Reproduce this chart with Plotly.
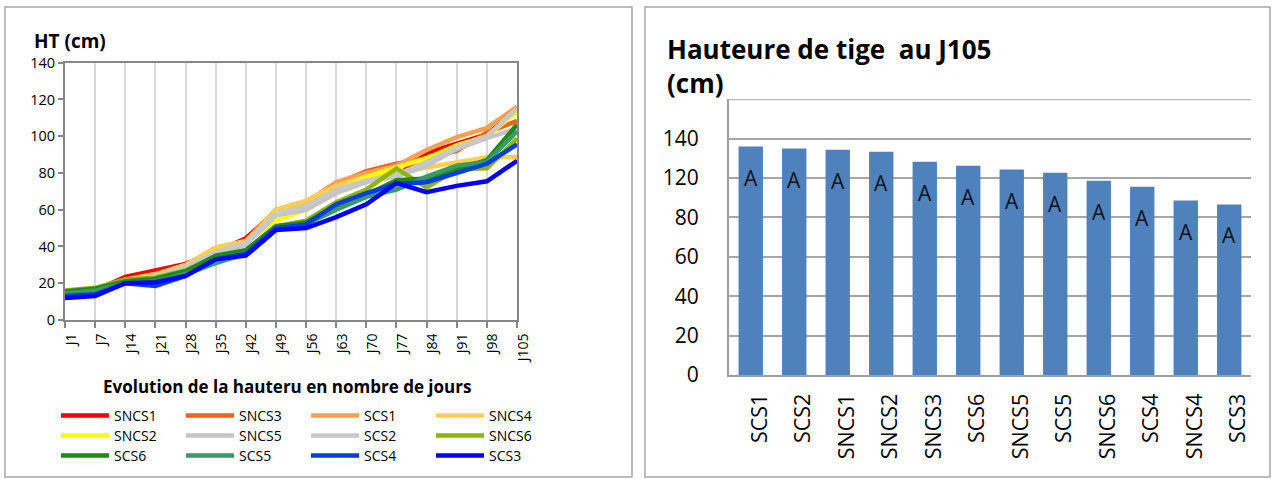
import plotly.graph_objects as go

# ---------------- data ----------------
days = ["J1", "J7", "J14", "J21", "J28", "J35", "J42", "J49", "J56", "J63",
        "J70", "J77", "J84", "J91", "J98", "J105"]

SNCS1 = [14, 16, 23.5, 27, 30.5, 37, 44.5, 59, 62, 72, 79, 78, 91, 96, 101, 114.4]
SNCS3 = [14, 16, 22, 24, 30, 37, 43, 60, 64, 74, 81, 85, 88, 92, 102, 108.3]
SCS1 = [14, 16, 21, 24, 29, 38, 42, 59, 64, 75, 80, 84, 92.5, 99.5, 104.5, 116]
SNCS4 = [15, 17, 22, 25, 30, 39.5, 43, 60, 65, 73, 78, 80, 83, 86, 88.5, 88.6]
SNCS2 = [14, 16, 21, 24, 29, 36, 42, 54, 60, 70, 78, 83, 88, 95, 100, 113.4]
SNCS5 = [13, 15, 21, 23, 28, 36, 41, 57, 60, 69, 75, 78, 84, 93, 99, 104.3]
SCS2 = [13, 15, 21, 24, 29, 37, 42, 58, 62, 71, 76, 79, 86, 94, 100, 115]
SNCS6 = [16, 17.5, 22, 23, 27, 34, 38, 51, 54, 64, 71, 82.5, 72, 82, 82.5, 98.7]
SCS6 = [15.5, 17, 21, 22.5, 26.5, 35, 38, 51, 53, 62, 68, 76, 77, 82, 87, 106.3]
SCS5 = [14.5, 16, 20, 21, 25, 31, 36, 50, 52, 60, 67, 71, 78, 84, 86, 102.7]
SCS4 = [13, 14, 20, 18.5, 24, 33, 36, 50, 52, 63, 69, 74, 75, 80, 85, 95.6]
SCS3 = [12, 13, 20, 20.5, 24, 33, 35, 49, 50, 56, 63, 74.5, 69.5, 73, 75.5, 86.6]

series_names = ["SNCS1", "SNCS3", "SCS1", "SNCS4",
                "SNCS2", "SNCS5", "SCS2", "SNCS6",
                "SCS6", "SCS5", "SCS4", "SCS3"]
series_values = [SNCS1, SNCS3, SCS1, SNCS4, SNCS2, SNCS5, SCS2, SNCS6,
                 SCS6, SCS5, SCS4, SCS3]
series_colors = ["#FF0000", "#FF6010", "#FFA050", "#FFD050",
                 "#FFFF00", "#C4C4C4", "#C8C8C8", "#8DB600",
                 "#1E8A12", "#379A68", "#0A3CE6", "#0000FF"]

bar_categories = ["SCS1", "SCS2", "SNCS1", "SNCS2", "SNCS3", "SCS6",
                  "SNCS5", "SCS5", "SNCS6", "SCS4", "SNCS4", "SCS3"]
bar_values = [116, 115, 114.4, 113.4, 108.3, 106.3, 104.3, 102.7, 98.7, 95.6, 88.6, 86.6]
bar_letters = ["A"] * 12

left_yticks = [0, 20, 40, 60, 80, 100, 120, 140]
right_tickvals = [0, 20, 40, 60, 80, 100, 120]
right_ticktext = ["0", "20", "40", "60", "80", "120", "140"]

# ---------------- figure ----------------
W, H = 1276, 479
FONT = "Open Sans"
fig = go.Figure()

legends = ["legend", "legend2", "legend3"]
for i, (name, vals, col) in enumerate(zip(series_names, series_values, series_colors)):
    fig.add_trace(go.Scatter(
        x=days, y=vals, name=name, mode="lines",
        line=dict(color=col, width=4.5),
        xaxis="x", yaxis="y", legend=legends[i // 4],
    ))

fig.add_trace(go.Bar(
    x=bar_categories, y=bar_values, marker=dict(color="#4F81BD", line=dict(width=0)),
    xaxis="x2", yaxis="y2", showlegend=False,
))

def px_x(p):
    return p / W

def px_y(p):
    return (H - p) / H

annotations = []
for c, v, t in zip(bar_categories, bar_values, bar_letters):
    annotations.append(dict(x=c, y=v, xref="x2", yref="y2", text=t, showarrow=False,
                            yanchor="middle", yshift=-31,
                            font=dict(family=FONT, size=21, color="#111111")))

annotations += [
    dict(x=px_x(32), y=px_y(41), xref="paper", yref="paper", text="<b>HT (cm)</b>",
         showarrow=False, xanchor="left", yanchor="middle",
         font=dict(family=FONT, size=19, color="#000")),
    dict(x=px_x(287), y=px_y(386), xref="paper", yref="paper",
         text="<b>Evolution de la hauteru en nombre de jours</b>",
         showarrow=False, xanchor="center", yanchor="middle",
         font=dict(family=FONT, size=17, color="#000")),
    dict(x=px_x(665), y=px_y(66), xref="paper", yref="paper",
         text="<b>Hauteure de tige  au J105<br>(cm)</b>", align="left",
         showarrow=False, xanchor="left", yanchor="middle",
         font=dict(family=FONT, size=26, color="#000")),
]

shapes = [
    dict(type="rect", xref="paper", yref="paper", x0=px_x(5), x1=px_x(632),
         y0=px_y(477), y1=px_y(7), line=dict(color="#A6A6A6", width=1.5)),
    dict(type="rect", xref="paper", yref="paper", x0=px_x(645), x1=px_x(1270),
         y0=px_y(477), y1=px_y(7), line=dict(color="#A6A6A6", width=1.5)),
]

leg_common = dict(orientation="h", xanchor="left", yanchor="middle",
                  entrywidth=62, entrywidthmode="pixels", itemwidth=48,
                  font=dict(family=FONT, size=14, color="#000"),
                  bgcolor="rgba(0,0,0,0)", tracegroupgap=0, itemclick=False)

fig.update_layout(
    width=W, height=H,
    margin=dict(l=0, r=0, t=0, b=0, autoexpand=False),
    paper_bgcolor="white", plot_bgcolor="white",
    font=dict(family=FONT, color="#000"),
    showlegend=True,
    legend=dict(x=px_x(56), y=px_y(416), **leg_common),
    legend2=dict(x=px_x(56), y=px_y(436), **leg_common),
    legend3=dict(x=px_x(56), y=px_y(456), **leg_common),
    xaxis=dict(domain=[px_x(65), px_x(517)], range=[0, 15], type="category",
               showgrid=True, gridcolor="#D9D9D9", gridwidth=1.5,
               showline=True, linecolor="#868686", linewidth=2, mirror=True,
               ticks="outside", ticklen=6, tickcolor="#868686", tickwidth=1.5,
               tickangle=-90, ticklabelshift=6,
               tickfont=dict(family=FONT, size=14, color="#000"),
               anchor="y", zeroline=False, automargin=False),
    yaxis=dict(domain=[px_y(320), px_y(62.7)], range=[0, 140], tickvals=left_yticks,
               showgrid=False, showline=True, linecolor="#868686", linewidth=2,
               mirror=True, ticks="outside", ticklen=5, tickcolor="#868686",
               tickwidth=1.5, tickfont=dict(family=FONT, size=14.5, color="#000"),
               anchor="x", zeroline=False, automargin=False),
    xaxis2=dict(domain=[px_x(729), px_x(1251)], type="category",
                showgrid=False, showline=True, linecolor="#A0A0A0", linewidth=2,
                ticks="", tickangle=-90, ticklabelstandoff=8, ticklabelshift=9,
                tickfont=dict(family=FONT, size=21.5, color="#000"),
                anchor="y2", zeroline=False, automargin=False),
    yaxis2=dict(domain=[px_y(375), px_y(99.3)], range=[0, 140],
                tickvals=right_tickvals, ticktext=right_ticktext,
                showgrid=True, gridcolor="#A6A6A6", gridwidth=2,
                showline=True, linecolor="#A0A0A0", linewidth=2,
                ticks="", ticklabelstandoff=24,
                tickfont=dict(family=FONT, size=21, color="#000"),
                anchor="x2", zeroline=False, automargin=False),
    bargap=0.44,
    annotations=annotations,
    shapes=shapes,
)

# extra gridline at top (140) for the bar chart
fig.add_shape(type="line", xref="x2 domain", yref="y2", x0=0, x1=1, y0=140, y1=140,
              line=dict(color="#A6A6A6", width=2), layer="below")

fig.write_html(
    "out.html",
    config={"displayModeBar": False},
    post_script="document.body.style.margin='0';document.body.style.overflow='hidden';",
)
